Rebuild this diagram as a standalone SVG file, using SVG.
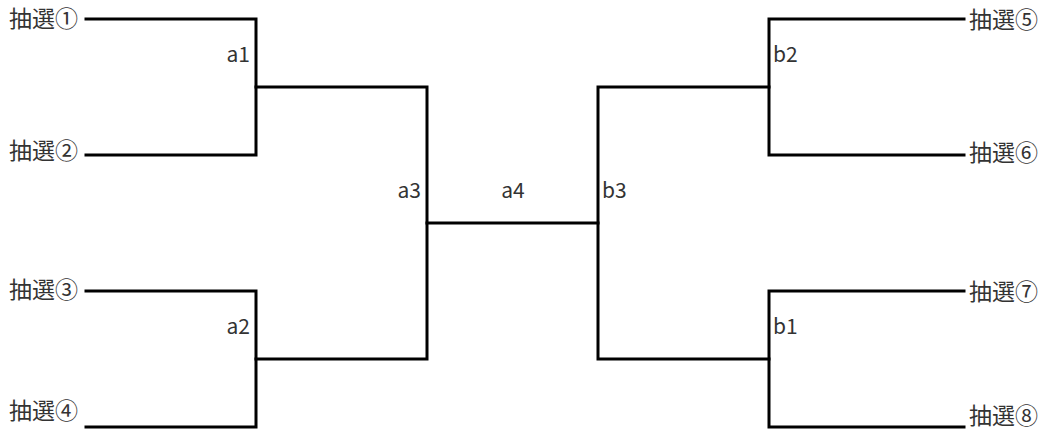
<svg xmlns="http://www.w3.org/2000/svg" width="1043" height="430" viewBox="0 0 1043 430">
<style>
.ln{fill:none;stroke:#000;stroke-width:3;stroke-linecap:square}
.t{font-family:"Noto Sans CJK JP","Noto Sans",sans-serif;font-size:21px;fill:#333}
.c{font-size:23px}
.e{text-anchor:end}
.m{text-anchor:middle}
</style>
<rect width="1043" height="430" fill="#fff"/>
<g id="connectors">
<path class="ln" d="M86,19H256V155H86"/>
<path class="ln" d="M86,291H256V427H86"/>
<path class="ln" d="M256,87H427V359H256"/>
<path class="ln" d="M427,223H598"/>
<path class="ln" d="M964,19H769V155H964"/>
<path class="ln" d="M964,291H769V427H964"/>
<path class="ln" d="M769,87H598V359H769"/>
</g>
<g id="e1"><text class="t c" x="9" y="27">抽選①</text></g>
<g id="e2"><text class="t c" x="9" y="159">抽選②</text></g>
<g id="e3"><text class="t c" x="9" y="298">抽選③</text></g>
<g id="e4"><text class="t c" x="9" y="419">抽選④</text></g>
<g id="e5"><text class="t c" x="969" y="28">抽選⑤</text></g>
<g id="e6"><text class="t c" x="969" y="161">抽選⑥</text></g>
<g id="e7"><text class="t c" x="969" y="300">抽選⑦</text></g>
<g id="e8"><text class="t c" x="969" y="424">抽選⑧</text></g>
<g id="a1"><text class="t e" x="250" y="62">a1</text></g>
<g id="a2"><text class="t e" x="250" y="334">a2</text></g>
<g id="a3"><text class="t e" x="421" y="198">a3</text></g>
<g id="a4"><text class="t m" x="513" y="198">a4</text></g>
<g id="b3"><text class="t" x="602" y="198">b3</text></g>
<g id="b2"><text class="t" x="773" y="62">b2</text></g>
<g id="b1"><text class="t" x="773" y="334">b1</text></g>
</svg>
